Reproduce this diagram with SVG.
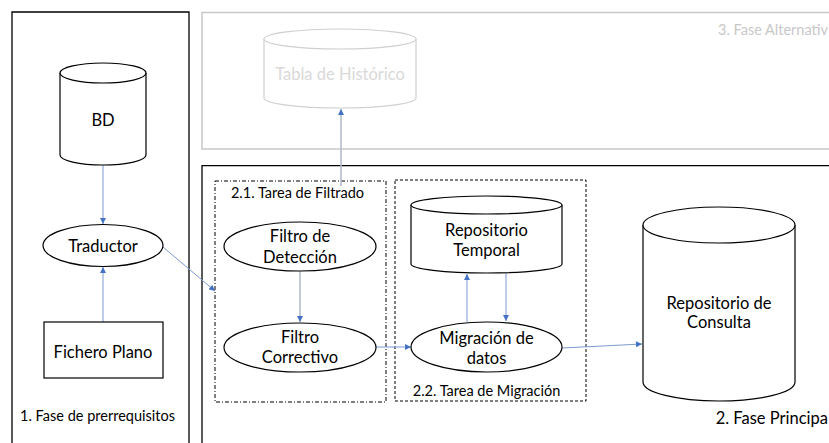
<svg xmlns="http://www.w3.org/2000/svg" width="829" height="443" viewBox="0 0 829 443">
<defs>
<style>
text{font-family:Lato,"Liberation Sans",Arial,sans-serif;font-size:16.5px;fill:#000;text-anchor:middle}
.lbl{font-size:14.5px}
.ghost{fill:#d9d9d9}
.shape{fill:#fff;stroke:#000;stroke-width:1.2}
.gshape{fill:#fff;stroke:#d0d0d0;stroke-width:1.2}
.conn{fill:none;stroke:#7f9bd0;stroke-width:1}
.gconn{fill:none;stroke:#b4bccb;stroke-width:1.6}
</style>
<marker id="arr" viewBox="0 0 10 10" refX="10" refY="5" markerWidth="7" markerHeight="6" markerUnits="userSpaceOnUse" orient="auto">
<path d="M0,0 L10,5 L0,10 z" fill="#4472c4"/>
</marker>
</defs>
<rect width="829" height="443" fill="#fff"/>

<g id="fase1">
<path d="M12,445 V12 H189 V445" fill="none" stroke="#000" stroke-width="1.3"/>
<text class="lbl" x="97.5" y="421">1. Fase de prerrequisitos</text>
</g>
<g id="fase3">
<path d="M835,12.5 H202 V149 H835" fill="none" stroke="#c8c8c8" stroke-width="1.5"/>
<text class="lbl" x="828" y="35" style="text-anchor:end;fill:#c8c8c8">3. Fase Alternativ</text>
</g>
<g id="fase2">
<path d="M835,165.7 H202 V445" fill="none" stroke="#000" stroke-width="1.3"/>
<text x="828" y="424" style="text-anchor:end">2. Fase Principa</text>
</g>
<g id="tarea-filtrado">
<rect x="215" y="181" width="171" height="221" fill="none" stroke="#000" stroke-width="1" stroke-dasharray="4 2 1 2"/>
<text class="lbl" x="297.5" y="198">2.1. Tarea de Filtrado</text>
</g>
<g id="tarea-migracion">
<rect x="395" y="180" width="191" height="221" fill="none" stroke="#000" stroke-width="1" stroke-dasharray="3 2"/>
<text class="lbl" x="486.5" y="396">2.2. Tarea de Migración</text>
</g>

<g id="connectors">
<line class="conn" x1="103" y1="165" x2="103" y2="224" marker-end="url(#arr)"/>
<line class="conn" x1="103" y1="322" x2="103" y2="267" marker-end="url(#arr)"/>
<line class="conn" x1="163" y1="247" x2="215" y2="291" marker-end="url(#arr)"/>
<line class="gconn" x1="300" y1="271" x2="300" y2="322" marker-end="url(#arr)"/>
<line class="conn" x1="376" y1="347" x2="411" y2="347" marker-end="url(#arr)"/>
<line class="conn" x1="467" y1="322" x2="467" y2="274" marker-end="url(#arr)"/>
<line class="conn" x1="506" y1="273" x2="506" y2="321" marker-end="url(#arr)"/>
<line class="conn" x1="562" y1="348" x2="642" y2="344" marker-end="url(#arr)"/>
<line class="gconn" x1="341" y1="186" x2="341" y2="109" marker-end="url(#arr)"/>
</g>

<g id="bd">
<path class="shape" d="M60,73 V155 A43,10 0 0 0 146,155 V73"/>
<ellipse class="shape" cx="103" cy="73" rx="43" ry="10"/>
<text x="103" y="126">BD</text>
</g>
<g id="traductor">
<ellipse class="shape" cx="103" cy="245.5" rx="60" ry="21"/>
<text x="103" y="251.5">Traductor</text>
</g>
<g id="fichero-plano">
<rect class="shape" x="44" y="322" width="119" height="56"/>
<text x="103" y="358">Fichero Plano</text>
</g>
<g id="tabla-historico">
<path class="gshape" d="M264,39 V98 A76,10 0 0 0 416,98 V39"/>
<ellipse class="gshape" cx="340" cy="39" rx="76" ry="10"/>
<text class="ghost" x="340" y="80">Tabla de Histórico</text>
</g>
<g id="filtro-deteccion">
<ellipse class="shape" cx="300" cy="246.5" rx="76" ry="24.5"/>
<text x="300" y="241.5">Filtro de</text>
<text x="300" y="262.5">Detección</text>
</g>
<g id="filtro-correctivo">
<ellipse class="shape" cx="300" cy="347.5" rx="76" ry="24.5"/>
<text x="300" y="342.5">Filtro</text>
<text x="300" y="362.5">Correctivo</text>
</g>
<g id="repositorio-temporal">
<path class="shape" d="M411,205 V264 A75.5,9 0 0 0 562,264 V205"/>
<ellipse class="shape" cx="486.5" cy="205" rx="75.5" ry="9"/>
<text x="486.5" y="235.5">Repositorio</text>
<text x="486.5" y="255.5">Temporal</text>
</g>
<g id="migracion-datos">
<ellipse class="shape" cx="486.5" cy="347" rx="75.5" ry="25"/>
<text x="486.5" y="343.5">Migración de</text>
<text x="486.5" y="363.5">datos</text>
</g>
<g id="repositorio-consulta">
<path class="shape" d="M643,225 V382 A76,19 0 0 0 795,382 V225"/>
<ellipse class="shape" cx="719" cy="225" rx="76" ry="18"/>
<text x="719" y="308.5">Repositorio de</text>
<text x="719" y="327.5">Consulta</text>
</g>
</svg>
